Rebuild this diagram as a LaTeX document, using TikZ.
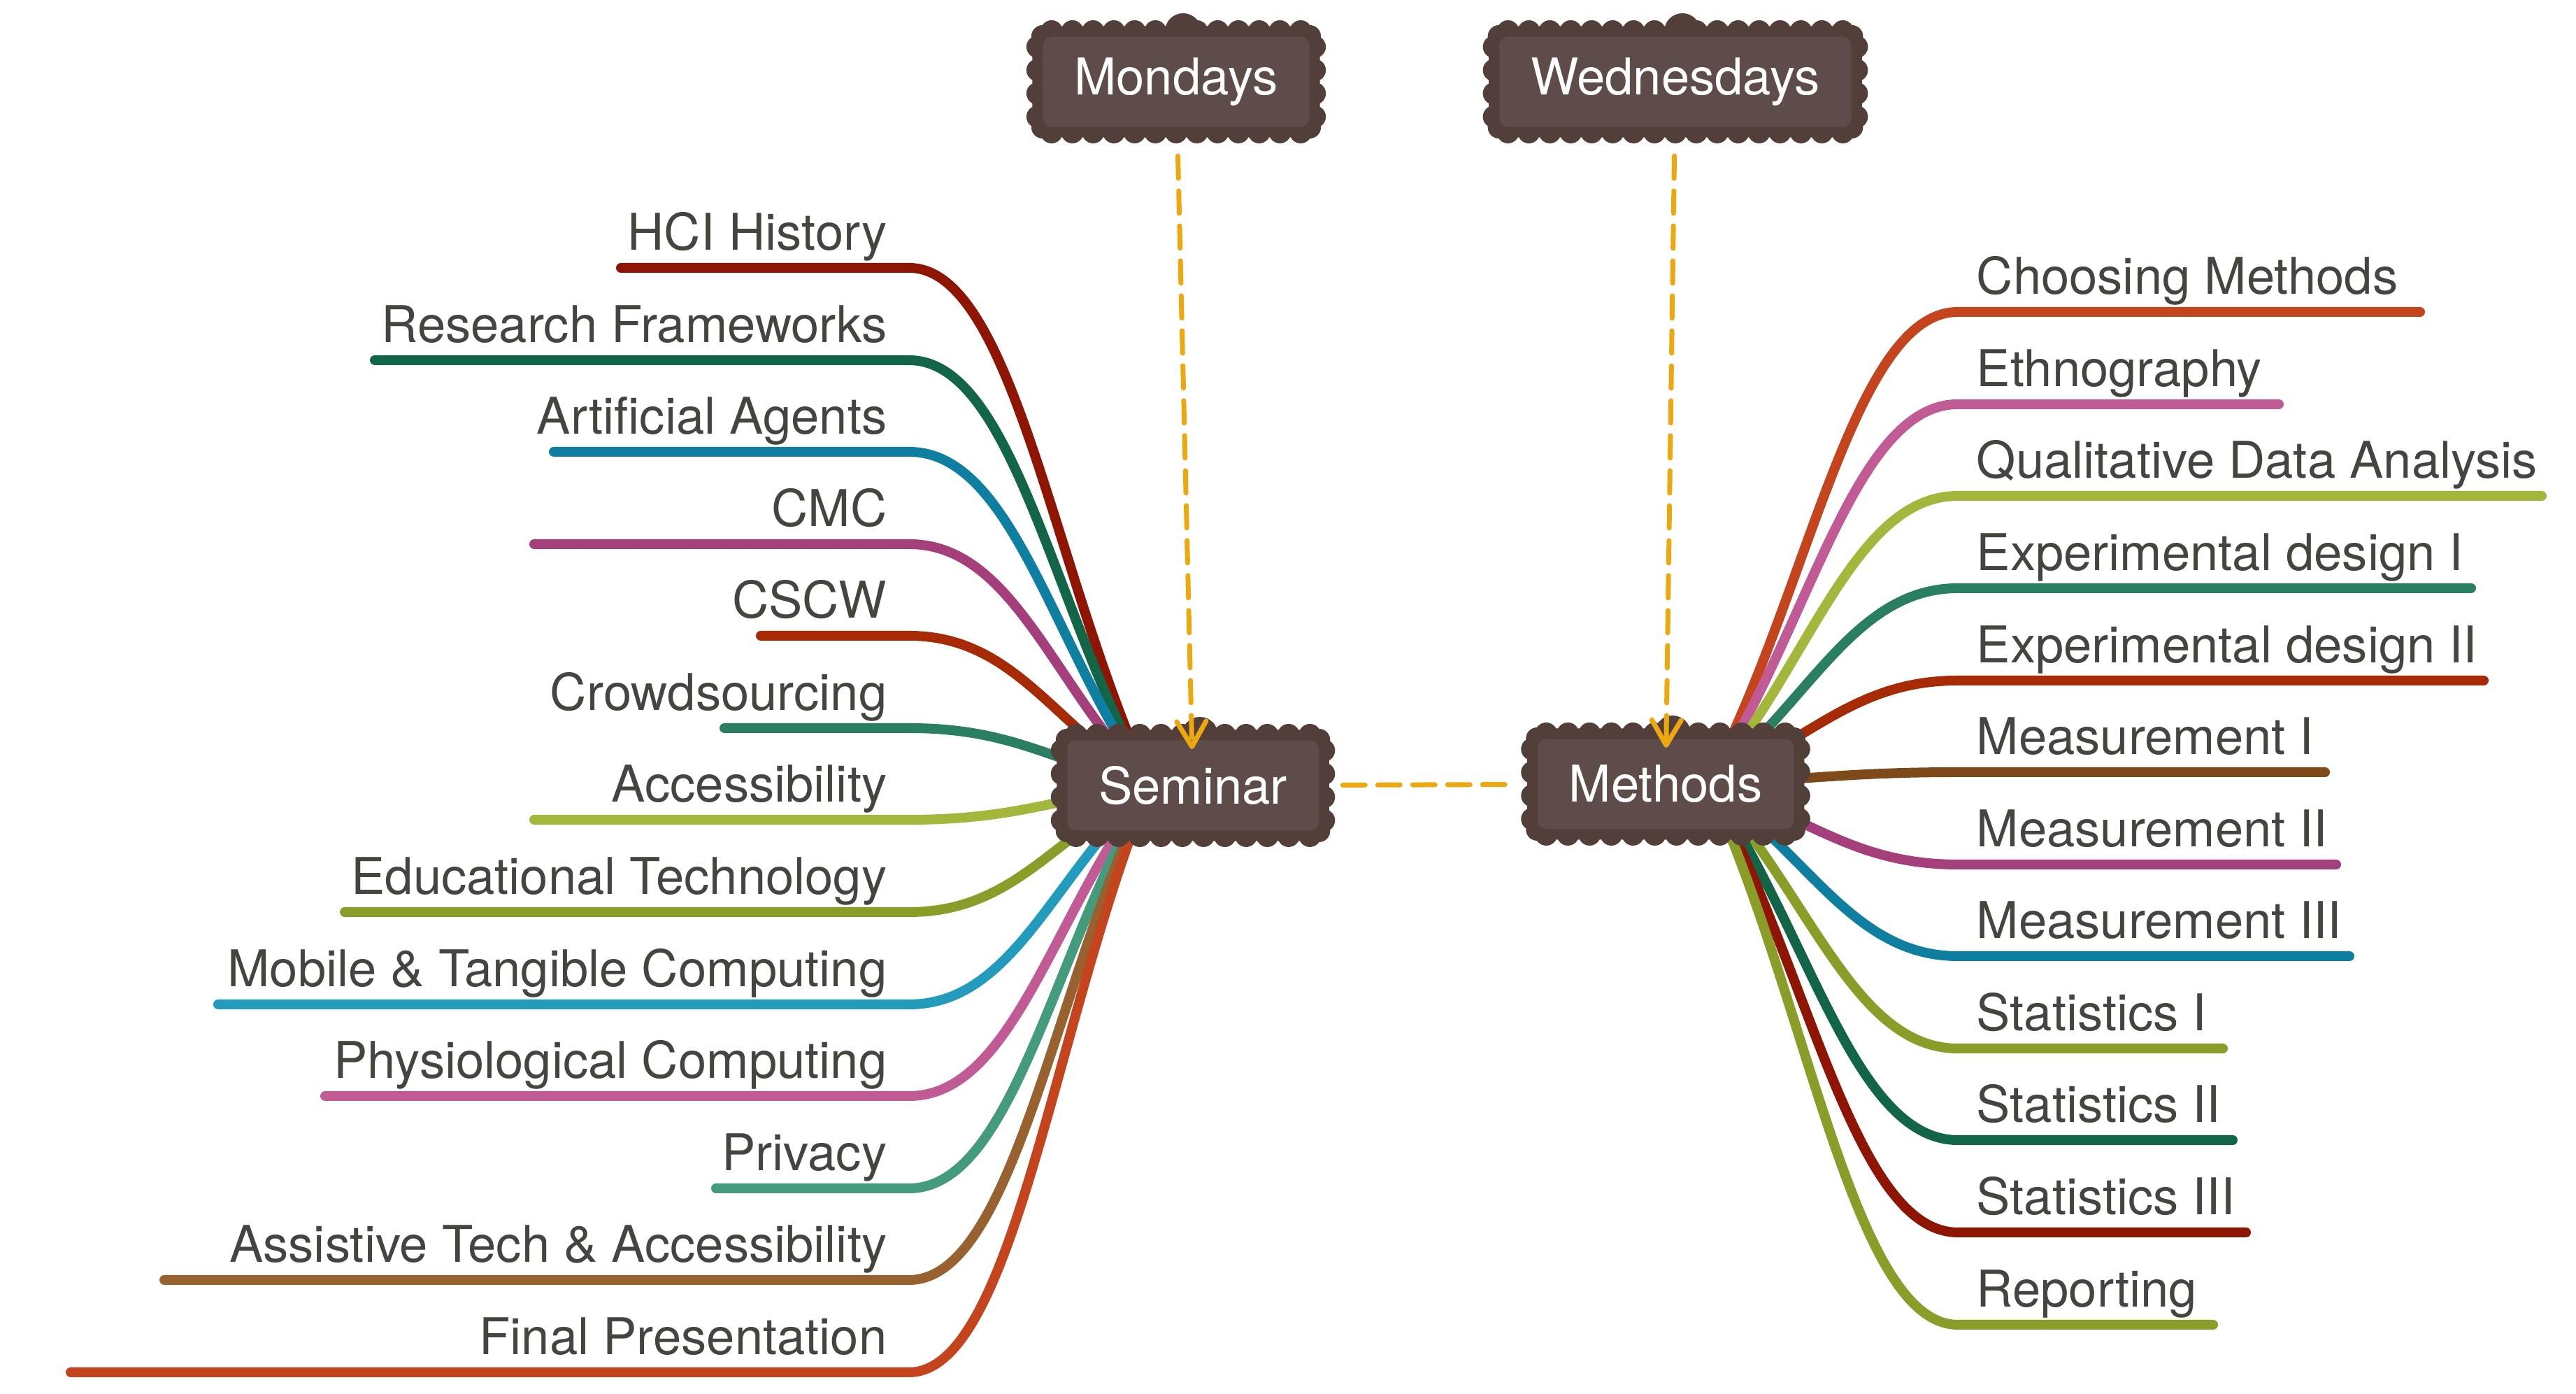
\documentclass[tikz,border=0pt]{standalone}
\usepackage{fontspec}
\setmainfont{TeX Gyre Heros}
\usetikzlibrary{arrows.meta,backgrounds,calc}

\definecolor{nodefill}{HTML}{5D4C49}
\definecolor{nodeedge}{HTML}{523F3A}
\definecolor{linkorange}{HTML}{EEA80F}
\definecolor{textgray}{HTML}{45443F}
\definecolor{bdarkred}{HTML}{8E1503}
\definecolor{bdarkgreen}{HTML}{136548}
\definecolor{bteal}{HTML}{0E7FA0}
\definecolor{bplum}{HTML}{A53F7C}
\definecolor{brust}{HTML}{A62A05}
\definecolor{bsea}{HTML}{2A7E62}
\definecolor{blime}{HTML}{A5B63D}
\definecolor{bolive}{HTML}{899D28}
\definecolor{bcyan}{HTML}{239BBD}
\definecolor{bpink}{HTML}{C05B95}
\definecolor{bjade}{HTML}{449B7B}
\definecolor{bbrown}{HTML}{986230}
\definecolor{bumber}{HTML}{7F4A1A}
\definecolor{borange}{HTML}{C4441E}

\tikzset{
  cloudbox/.style={rectangle, rounded corners=0.2cm, fill=nodefill, draw=nodeedge,
    line width=0.15cm, text=white, font=\fontsize{20.6}{24}\selectfont,
    inner xsep=0.525cm, minimum height=1.44cm, outer sep=0pt},
  puff/.style={fill=nodeedge},
  topic/.style={text=textgray, font=\fontsize{20.6}{24}\selectfont, inner sep=0pt},
  ltopic/.style={topic, anchor=base east, xshift=-0.31cm, yshift=0.25cm},
  rtopic/.style={topic, anchor=base west, xshift=0.26cm, yshift=0.25cm},
  branch/.style={draw=#1, line width=0.14cm, line cap=round},
  lcurve/.style={to path={.. controls ($(\tikztostart)!0.4!(\tikztotarget)$) and ($(\tikztotarget)+(1.5,0)$) .. (\tikztotarget)}},
  rcurve/.style={to path={.. controls ($(\tikztostart)!0.4!(\tikztotarget)$) and ($(\tikztotarget)+(-1.5,0)$) .. (\tikztotarget)}},
  link/.style={draw=linkorange, line width=0.07cm, line cap=round,
    dash pattern=on 0.32cm off 0.18cm}
}

\begin{document}
\begin{tikzpicture}
\useasboundingbox (0,0) rectangle (36.84,19.93);
% main topics
\node[cloudbox] (mon) at (16.82,18.76) {Mondays};
\node[cloudbox] (wed) at (23.96,18.76) {Wednesdays};
\node[cloudbox] (sem) at (17.06,8.70) {Seminar};
\node[cloudbox] (met) at (23.82,8.72) {Methods};
\coordinate (semO) at ([xshift=-0.61cm]sem.center);
\coordinate (metO) at ([xshift=0.61cm]met.center);
% seminar topics
\coordinate (l1) at (13.0,16.10);
\coordinate (l2) at (13.0,14.78);
\coordinate (l3) at (13.0,13.47);
\coordinate (l4) at (13.0,12.15);
\coordinate (l5) at (13.0,10.84);
\coordinate (l6) at (13.0,9.52);
\coordinate (l7) at (13.0,8.21);
\coordinate (l8) at (13.0,6.89);
\coordinate (l9) at (13.0,5.57);
\coordinate (l10) at (13.0,4.26);
\coordinate (l11) at (13.0,2.94);
\coordinate (l12) at (13.0,1.63);
\coordinate (l13) at (13.0,0.31);
\node[ltopic] (hci) at (l1) {HCI History};
\node[ltopic] (frame) at (l2) {Research Frameworks};
\node[ltopic] (agent) at (l3) {Artificial Agents};
\node[ltopic] (cmc) at (l4) {CMC};
\node[ltopic] (cscw) at (l5) {CSCW};
\node[ltopic] (crowd) at (l6) {Crowdsourcing};
\node[ltopic] (acc) at (l7) {Accessibility};
\node[ltopic] (edu) at (l8) {Educational Technology};
\node[ltopic] (mobile) at (l9) {Mobile \& Tangible Computing};
\node[ltopic] (physio) at (l10) {Physiological Computing};
\node[ltopic] (priv) at (l11) {Privacy};
\node[ltopic] (assist) at (l12) {Assistive Tech \& Accessibility};
\node[ltopic] (final) at (l13) {Final Presentation};
% methods topics
\coordinate (r1) at (28.0,15.47);
\coordinate (r2) at (28.0,14.15);
\coordinate (r3) at (28.0,12.84);
\coordinate (r4) at (28.0,11.52);
\coordinate (r5) at (28.0,10.20);
\coordinate (r6) at (28.0,8.89);
\coordinate (r7) at (28.0,7.57);
\coordinate (r8) at (28.0,6.26);
\coordinate (r9) at (28.0,4.94);
\coordinate (r10) at (28.0,3.63);
\coordinate (r11) at (28.0,2.31);
\coordinate (r12) at (28.0,0.99);
\node[rtopic] (choose) at (r1) {Choosing Methods};
\node[rtopic] (ethno) at (r2) {Ethnography};
\node[rtopic] (quali) at (r3) {Qualitative Data Analysis};
\node[rtopic] (exp1) at (r4) {Experimental design I};
\node[rtopic] (exp2) at (r5) {Experimental design II};
\node[rtopic] (meas1) at (r6) {Measurement I};
\node[rtopic] (meas2) at (r7) {Measurement II};
\node[rtopic] (meas3) at (r8) {Measurement III};
\node[rtopic] (stat1) at (r9) {Statistics I};
\node[rtopic] (stat2) at (r10) {Statistics II};
\node[rtopic] (stat3) at (r11) {Statistics III};
\node[rtopic] (report) at (r12) {Reporting};
% branches and puffs behind the clouds
\begin{scope}[on background layer]
\draw[branch=bdarkred] (semO) to[lcurve] (l1) -- +(-4.12,0);
\draw[branch=bdarkgreen] (semO) to[lcurve] (l2) -- +(-7.64,0);
\draw[branch=bteal] (semO) to[lcurve] (l3) -- +(-5.08,0);
\draw[branch=bplum] (semO) to[lcurve] (l4) -- +(-5.36,0);
\draw[branch=brust] (semO) to[lcurve] (l5) -- +(-2.12,0);
\draw[branch=bsea] (semO) to[lcurve] (l6) -- +(-2.64,0);
\draw[branch=blime] (semO) to[lcurve] (l7) -- +(-5.36,0);
\draw[branch=bolive] (semO) to[lcurve] (l8) -- +(-8.07,0);
\draw[branch=bcyan] (semO) to[lcurve] (l9) -- +(-9.88,0);
\draw[branch=bpink] (semO) to[lcurve] (l10) -- +(-8.35,0);
\draw[branch=bjade] (semO) to[lcurve] (l11) -- +(-2.76,0);
\draw[branch=bbrown] (semO) to[lcurve] (l12) -- +(-10.65,0);
\draw[branch=borange] (semO) to[lcurve] (l13) -- +(-11.99,0);
\draw[branch=borange] (metO) to[rcurve] (r1) -- +(6.61,0);
\draw[branch=bpink] (metO) to[rcurve] (r2) -- +(4.59,0);
\draw[branch=blime] (metO) to[rcurve] (r3) -- +(8.35,0);
\draw[branch=bsea] (metO) to[rcurve] (r4) -- +(7.34,0);
\draw[branch=brust] (metO) to[rcurve] (r5) -- +(7.52,0);
\draw[branch=bumber] (metO) to[rcurve] (r6) -- +(5.25,0);
\draw[branch=bplum] (metO) to[rcurve] (r7) -- +(5.41,0);
\draw[branch=bteal] (metO) to[rcurve] (r8) -- +(5.60,0);
\draw[branch=bolive] (metO) to[rcurve] (r9) -- +(3.79,0);
\draw[branch=bdarkgreen] (metO) to[rcurve] (r10) -- +(3.93,0);
\draw[branch=bdarkred] (metO) to[rcurve] (r11) -- +(4.12,0);
\draw[branch=bolive] (metO) to[rcurve] (r12) -- +(3.65,0);
\foreach \n/\k in {mon/12,wed/16,sem/11,met/11} {
  \foreach \i in {0,...,\k}
    \fill[puff] ($([xshift=0.2cm]\n.north west)!\i/\k!([xshift=-0.2cm]\n.north east)$) circle (0.16)
                ($([xshift=0.2cm]\n.south west)!\i/\k!([xshift=-0.2cm]\n.south east)$) circle (0.16);
  \foreach \i in {0,...,3}
    \fill[puff] ($([yshift=-0.22cm]\n.north west)!\i/3!([yshift=0.22cm]\n.south west)$) circle (0.16)
                ($([yshift=-0.22cm]\n.north east)!\i/3!([yshift=0.22cm]\n.south east)$) circle (0.16);
  \fill[puff] ([xshift=0.07cm,yshift=-0.07cm]\n.north west) circle (0.16)
              ([xshift=-0.07cm,yshift=-0.07cm]\n.north east) circle (0.16)
              ([xshift=0.07cm,yshift=0.07cm]\n.south west) circle (0.16)
              ([xshift=-0.07cm,yshift=0.07cm]\n.south east) circle (0.16);
  \fill[puff] ([xshift=0.1cm]\n.north) circle (0.26);
}
\end{scope}
% dashed links
\draw[link, -{Straight Barb[length=0.36cm, width=0.42cm, round]}, shorten <=0.34cm, shorten >=-0.2cm] (mon) -- (sem);
\draw[link, -{Straight Barb[length=0.36cm, width=0.42cm, round]}, shorten <=0.34cm, shorten >=-0.2cm] (wed) -- (met);
\draw[link, shorten <=0.27cm, shorten >=0.28cm] (sem) -- (met);
\end{tikzpicture}
\end{document}
